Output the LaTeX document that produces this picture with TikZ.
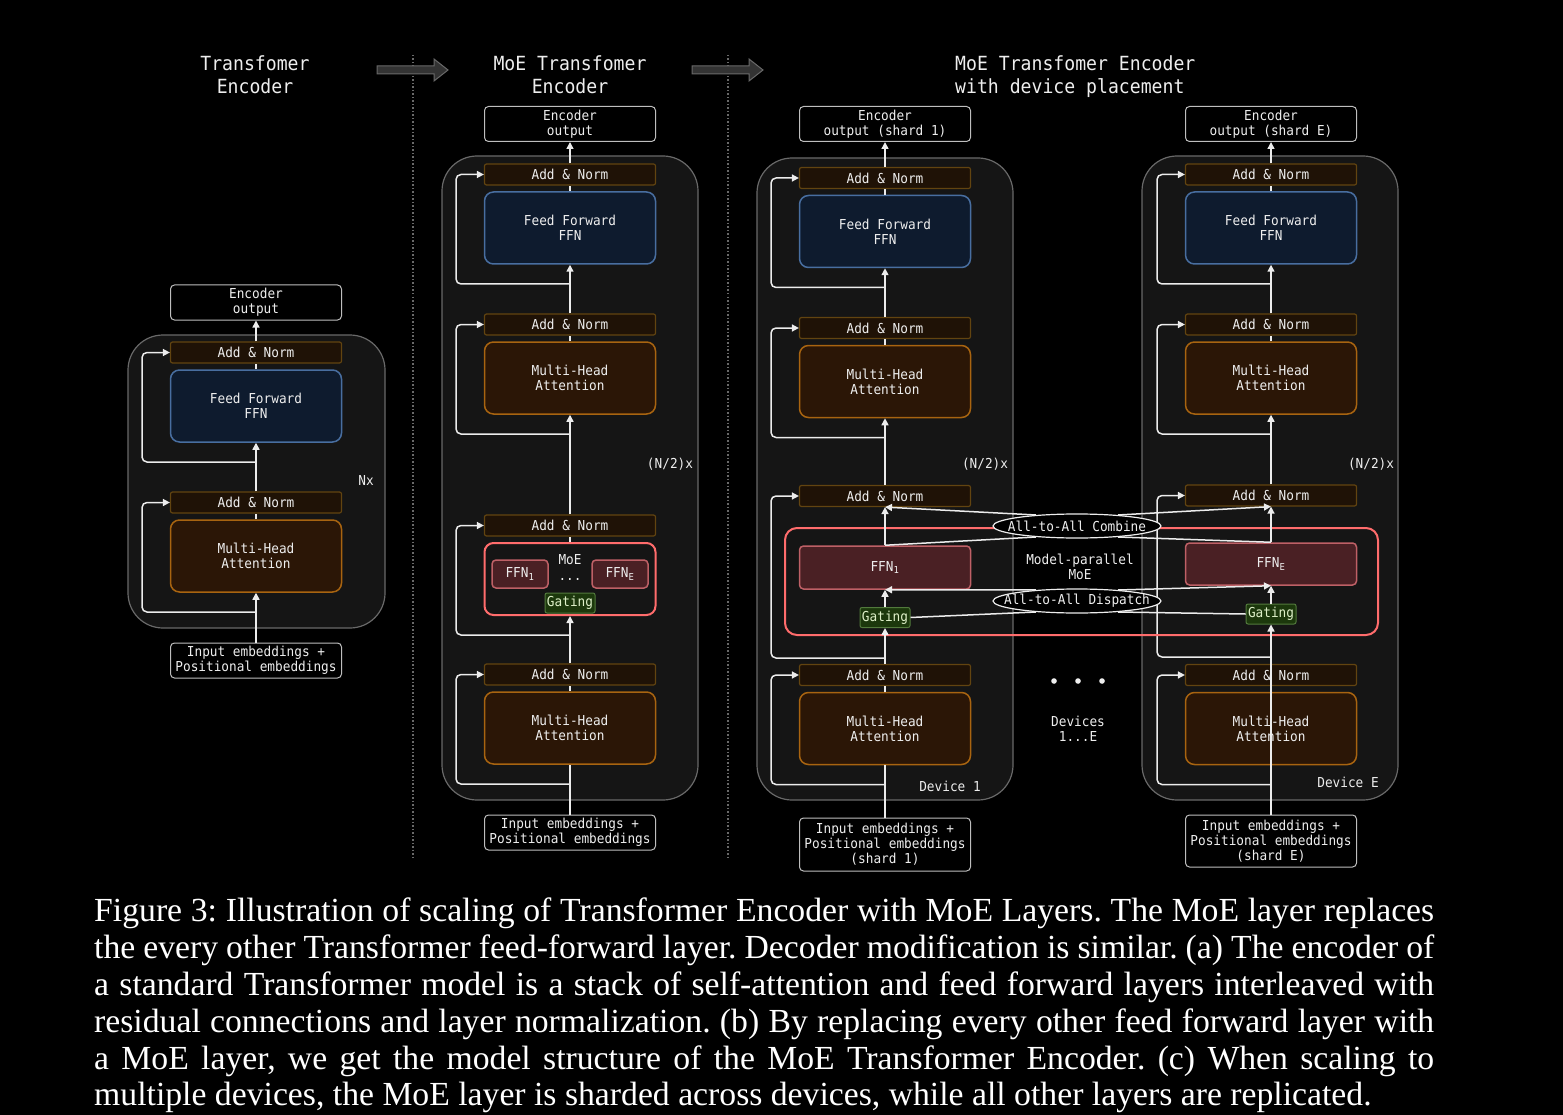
\documentclass[tikz,border=0pt]{standalone}
\usepackage{fontspec}
\setmainfont{Liberation Serif}
\newfontfamily\diagfont[FakeStretch=0.93]{DejaVu Sans Mono}
\usetikzlibrary{arrows.meta,shapes.geometric}

\definecolor{txt}{RGB}{238,238,238}
\definecolor{contfill}{RGB}{21,21,21}
\definecolor{contline}{RGB}{105,105,105}
\definecolor{anfill}{RGB}{31,18,6}
\definecolor{anline}{RGB}{98,68,16}
\definecolor{ffnfill}{RGB}{14,27,46}
\definecolor{ffnline}{RGB}{72,110,160}
\definecolor{mhafill}{RGB}{43,22,6}
\definecolor{mhaline}{RGB}{168,100,16}
\definecolor{expfill}{RGB}{74,32,36}
\definecolor{expline}{RGB}{190,96,102}
\definecolor{gatefill}{RGB}{28,56,12}
\definecolor{gateline}{RGB}{82,122,60}
\definecolor{gatetxt}{RGB}{222,240,200}
\definecolor{moered}{RGB}{255,108,108}
\definecolor{ioline}{RGB}{190,190,190}
\definecolor{wirecol}{RGB}{236,236,236}

\tikzset{
  lbl/.style={text=txt, font=\diagfont\fontsize{13.7}{15}\selectfont, align=center, inner sep=0pt},
  ttl/.style={text=txt, font=\diagfont\fontsize{19.5}{23}\selectfont, align=center, inner sep=0pt},
  box/.style={lbl, minimum width=171pt},
  addnorm/.style={box, draw=anline, fill=anfill, rounded corners=2pt, minimum height=21pt, line width=1.2pt},
  ffnbox/.style={box, draw=ffnline, fill=ffnfill, rounded corners=9pt, minimum height=72pt, line width=1.5pt},
  mhabox/.style={box, draw=mhaline, fill=mhafill, rounded corners=9pt, minimum height=72pt, line width=1.5pt},
  moebox/.style={box, draw=moered, rounded corners=9pt, minimum height=72pt, line width=2pt},
  iobox/.style={box, draw=ioline, fill=black, rounded corners=4pt, minimum height=35pt, line width=1pt},
  expert/.style={lbl, draw=expline, fill=expfill, rounded corners=4pt, line width=1.5pt},
  gating/.style={lbl, text=gatetxt, draw=gateline, fill=gatefill, rounded corners=2pt, minimum width=50pt, minimum height=20pt, line width=1pt},
  a2a/.style={lbl, ellipse, draw=wirecol, fill=black, minimum width=168pt, minimum height=24pt,
              inner xsep=-14pt, inner ysep=0pt, line width=1.2pt},
  container/.style={draw=contline, fill=contfill, rounded corners=35pt, line width=1.2pt},
  wire/.style={draw=wirecol, line width=1.5pt},
  arr/.style={wire, -{Triangle[length=7pt,width=7pt]}},
  pics/enc_layer/.style args={#1,#2,#3}{
     code={
        \node[#2] (#1) at (0,0) {#3};
        \node[addnorm] (#1_an) at (0,-53.5) {Add \& Norm};
        \coordinate (#1_tap) at (0,56);
        \draw[wire] (#1) -- (#1_an);
        \draw[arr, rounded corners=5pt] (#1_tap) -- ++(-114,0) |- (#1_an);
     }
  }
}

\begin{document}
\begin{tikzpicture}[x=1pt, y=-1pt]
  \fill[black] (0,0) rectangle (1563,1115);
  \useasboundingbox (0,0) rectangle (1563,1115);

  \draw[contline, line width=1.2pt, dash pattern=on 1.5pt off 2pt] (413,55) -- (413,858);
  \draw[contline, line width=1.2pt, dash pattern=on 1.5pt off 2pt] (728,55) -- (728,858);
  \foreach \ax in {377,692}
    \draw[contline, fill=black!80!white, line width=1pt] (\ax,66) -- ++(57,0) -- ++(0,-7) -- ++(14,11)
      -- ++(-14,11) -- ++(0,-7) -- ++(-57,0) -- cycle;

  \node[ttl] (t1) at (255,75) {Transfomer\\Encoder};
  \node[ttl] (t2) at (570,75) {MoE Transfomer\\Encoder};
  \node[ttl, align=left, anchor=west] (t3) at (955,77) {MoE Transfomer Encoder\\with device placement};

  % (a) plain encoder
  \draw[container] (128,335) rectangle (385,628);
  \node[iobox] (p1_out) at (256,302.5) {Encoder\\output};
  \pic at (256,406) {enc_layer={p1_ffn,ffnbox,Feed Forward\\FFN}};
  \pic at (256,556) {enc_layer={p1_mha,mhabox,Multi-Head\\Attention}};
  \node[iobox] (p1_in) at (256,660.5) {Input embeddings +\\Positional embeddings};
  \node[lbl] (p1_n) at (366,481) {Nx};
  \draw[arr] (p1_in) -- (p1_mha);
  \draw[arr] (p1_mha_an) -- (p1_ffn);
  \draw[arr] (p1_ffn_an) -- (p1_out);

  % (b) MoE encoder
  \draw[container] (442,156) rectangle (698,800);
  \node[iobox] (p2_out) at (570,124) {Encoder\\output};
  \pic at (570,228) {enc_layer={p2_ffn,ffnbox,Feed Forward\\FFN}};
  \pic at (570,378) {enc_layer={p2_mhb,mhabox,Multi-Head\\Attention}};
  \pic at (570,579) {enc_layer={p2_moe,moebox,}};
  \pic at (570,728) {enc_layer={p2_mha,mhabox,Multi-Head\\Attention}};
  \node[iobox] (p2_in) at (570,832.5) {Input embeddings +\\Positional embeddings};
  \node[lbl] (p2_moet) at (570,560) {MoE};
  \node[expert, minimum width=56pt, minimum height=28pt] (p2_e1) at (520,574) {FFN\textsubscript{1}};
  \node[lbl] (p2_dots) at (570,579) {...};
  \node[expert, minimum width=56pt, minimum height=28pt] (p2_eE) at (620,574) {FFN\textsubscript{E}};
  \node[gating] (p2_gate) at (570,603) {Gating};
  \node[lbl] (p2_n) at (670,464) {(N/2)x};
  \draw[wire] (p2_in) -- (p2_mha);
  \draw[arr] (p2_mha_an) -- (p2_moe);
  \draw[arr] (p2_moe_an) -- (p2_mhb);
  \draw[arr] (p2_mhb_an) -- (p2_ffn);
  \draw[arr] (p2_ffn_an) -- (p2_out);

  % (c) device 1
  \draw[container] (757,158) rectangle (1013,800);
  \node[iobox] (d1_out) at (885,124) {Encoder\\output (shard 1)};
  \pic at (885,231.5) {enc_layer={d1_ffn,ffnbox,Feed Forward\\FFN}};
  \pic at (885,381.5) {enc_layer={d1_mhb,mhabox,Multi-Head\\Attention}};
  \node[addnorm] (d1_an) at (885,496) {Add \& Norm};
  \pic at (885,728.5) {enc_layer={d1_mha,mhabox,Multi-Head\\Attention}};
  \node[iobox, minimum height=53pt] (d1_in) at (885,844.5) {Input embeddings +\\Positional embeddings\\(shard 1)};
  \node[lbl] (d1_n) at (985,464) {(N/2)x};
  \node[lbl] (d1_dev) at (950,786) {Device 1};
  \coordinate (d1_tap) at (885,658);
  \draw[arr, rounded corners=5pt] (d1_tap) -- ++(-114,0) |- (d1_an);

  % (c) device E
  \draw[container] (1142,156) rectangle (1398,800);
  \node[iobox] (dE_out) at (1271,124) {Encoder\\output (shard E)};
  \pic at (1271,228) {enc_layer={dE_ffn,ffnbox,Feed Forward\\FFN}};
  \pic at (1271,378) {enc_layer={dE_mhb,mhabox,Multi-Head\\Attention}};
  \node[addnorm] (dE_an) at (1271,495.5) {Add \& Norm};
  \pic at (1271,728.5) {enc_layer={dE_mha,mhabox,Multi-Head\\Attention}};
  \node[iobox, minimum height=52pt] (dE_in) at (1271,841) {Input embeddings +\\Positional embeddings\\(shard E)};
  \node[lbl] (dE_n) at (1371,464) {(N/2)x};
  \node[lbl] (dE_dev) at (1348,782) {Device E};
  \coordinate (dE_tap) at (1271,657);
  \draw[arr, rounded corners=5pt] (dE_tap) -- ++(-114,0) |- (dE_an);

  % model-parallel MoE
  \draw[moered, line width=2pt, rounded corners=12pt] (785,528) rectangle (1378,635);
  \node[expert, minimum width=171pt, minimum height=43pt] (d1_ffnA) at (885,567.5) {FFN\textsubscript{1}};
  \node[gating] (d1_gate) at (885,617.5) {Gating};
  \node[expert, minimum width=171pt, minimum height=42pt] (dE_ffnE) at (1271,564) {FFN\textsubscript{E}};
  \node[gating] (dE_gate) at (1271,614) {Gating};
  \node[lbl] (mp) at (1080,567) {Model-parallel\\MoE};
  \node[a2a] (comb) at (1077,526) {All-to-All Combine};
  \node[a2a] (disp) at (1077,601) {All-to-All Dispatch};
  \draw[arr] (comb.165) -- (d1_an.south);
  \draw[wire] (d1_ffnA.north) -- (comb.195);
  \draw[arr] (comb.15) -- (dE_an.south);
  \draw[wire] (dE_ffnE.north) -- (comb.345);
  \draw[wire] (d1_gate.east) -- (disp.195);
  \draw[arr] (disp.165) -- (d1_ffnA.south);
  \draw[arr] (disp.15) -- (dE_ffnE.south);
  \draw[wire] (dE_gate.west) -- (disp.345);
  \draw[arr] (d1_gate) -- (d1_ffnA);
  \draw[arr] (d1_ffnA) -- (d1_an);
  \draw[arr] (dE_gate) -- (dE_ffnE);
  \draw[arr] (dE_ffnE) -- (dE_an);

  \draw[wire] (d1_in) -- (d1_mha);
  \draw[arr] (d1_mha_an) -- (d1_gate);
  \draw[arr] (d1_an) -- (d1_mhb);
  \draw[arr] (d1_mhb_an) -- (d1_ffn);
  \draw[arr] (d1_ffn_an) -- (d1_out);
  \draw[arr] (dE_in) -- (dE_gate);
  \draw[arr] (dE_an) -- (dE_mhb);
  \draw[arr] (dE_mhb_an) -- (dE_ffn);
  \draw[arr] (dE_ffn_an) -- (dE_out);

  \foreach \dx in {1054,1078,1102}
    \fill[txt] (\dx,681) circle (2.8);
  \node[lbl] (devs) at (1078,729) {Devices\\1...E};

  \node[anchor=north west, inner sep=0pt, text=white, align=left,
        font=\fontsize{33.7}{36.8}\selectfont\frenchspacing] (cap) at (94,898) {%
    \makebox[1340pt][s]{Figure 3: Illustration of scaling of Transformer Encoder with MoE Layers. The MoE layer replaces}\\
    \makebox[1340pt][s]{the every other Transformer feed-forward layer. Decoder modification is similar. (a) The encoder of}\\
    \makebox[1340pt][s]{a standard Transformer model is a stack of self-attention and feed forward layers interleaved with}\\
    \makebox[1340pt][s]{residual connections and layer normalization. (b) By replacing every other feed forward layer with}\\
    \makebox[1340pt][s]{a MoE layer, we get the model structure of the MoE Transformer Encoder. (c) When scaling to}\\
    multiple devices, the MoE layer is sharded across devices, while all other layers are replicated.};
\end{tikzpicture}
\end{document}
